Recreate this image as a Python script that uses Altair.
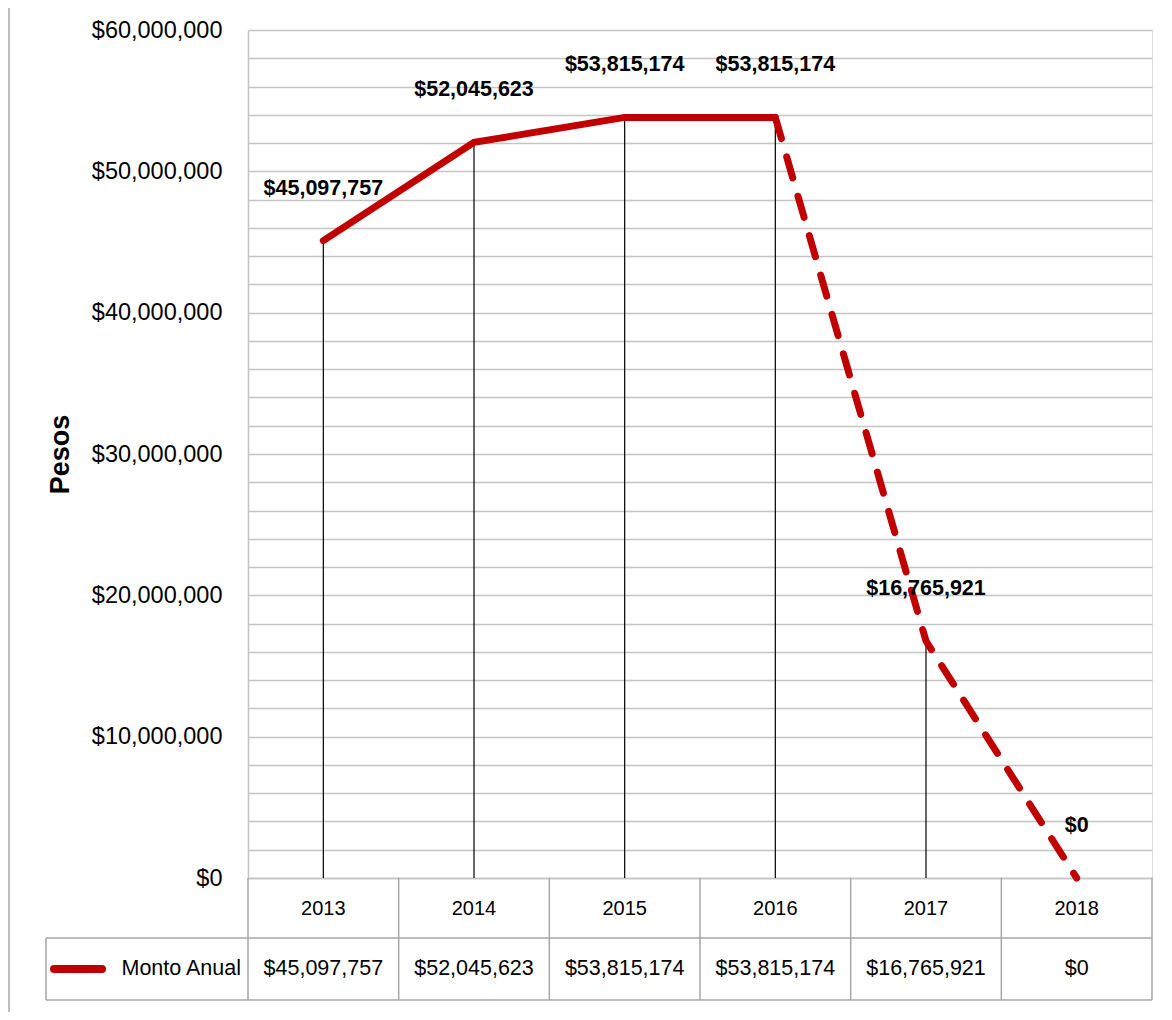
import altair as alt
import pandas as pd

# ---- data ----
years = ["2013", "2014", "2015", "2016", "2017", "2018"]
values = [45097757, 52045623, 53815174, 53815174, 16765921, 0]
series_name = "Monto Anual"
y_title = "Pesos"
y_tick_values = list(range(0, 60000001, 2000000))

df = pd.DataFrame({"year": years, "value": values})
df["label"] = df["value"].map(lambda v: f"${v:,.0f}")
solid_df = df[df["year"].astype(int) <= 2016]
dashed_df = df[df["year"].astype(int) >= 2016]

# ---- layout / style ----
W, H = 904, 848
PAD = {"left": 240, "top": 22, "right": 10, "bottom": 134}
ROW_SPLIT = H + 60
ROW2_MID = H + 91
ROW_BOTTOM = H + 122
LEG_LEFT = -202
RED = "#c00000"
GRID = "#c4c4c4"
BORDER = "#a6a6a6"
FONT = "Liberation Sans, Arial, sans-serif"

x_scale = alt.Scale(type="band", domain=years, paddingInner=0, paddingOuter=0)
y_scale = alt.Scale(domain=[0, 60000000], nice=False, zero=True)

x_axis = alt.Axis(
    title=None, labelFontSize=20, labelFont=FONT, labelColor="black",
    labelAngle=0, labelBaseline="middle", labelPadding=30,
    ticks=False, tickSize=0, domainColor=GRID, domainWidth=1.5, grid=False,
)
y_axis = alt.Axis(
    values=y_tick_values, format="$,.0f",
    labelExpr="datum.value % 10000000 === 0 ? datum.label : ''",
    labelFontSize=23.5, labelFont=FONT, labelColor="black",
    labelPadding=26, labelBaseline="middle",
    ticks=False, tickSize=0, domainColor=GRID, domainWidth=1.5,
    grid=True, gridColor=GRID, gridWidth=1.5,
    title=y_title, titleFont=FONT, titleFontSize=27, titleFontWeight="bold",
    titleColor="black", titleAngle=270, titleX=-188, titleY=H / 2,
    titleAlign="center", titleBaseline="middle",
)


def X(**kw):
    return alt.X("year:N", scale=x_scale, sort=years, axis=x_axis, **kw)


Y = alt.Y("value:Q", scale=y_scale, axis=y_axis)

base = alt.Chart(df)

drop = base.mark_rule(color="black", strokeWidth=1.2).encode(
    x=X(), y=Y, y2=alt.datum(0)
)
solid = alt.Chart(solid_df).mark_line(
    color=RED, strokeWidth=7, strokeCap="round", strokeJoin="miter"
).encode(x=X(), y=Y)
dashed = alt.Chart(dashed_df).mark_line(
    color=RED, strokeWidth=7, strokeCap="round", strokeDash=[22, 19]
).encode(x=X(), y=Y)
labels = base.mark_text(
    dy=-52, fontSize=21.5, fontWeight="bold", font=FONT, color="black",
    baseline="middle", align="center",
).encode(x=X(), y=Y, text="label:N")

# ---- data table below the axis ----
col_left = base.mark_rule(color=BORDER, strokeWidth=1.5).encode(
    x=X(bandPosition=0), y=alt.value(H), y2=alt.value(ROW_BOTTOM)
)
col_right = alt.Chart(df.tail(1)).mark_rule(color=BORDER, strokeWidth=1.5).encode(
    x=X(bandPosition=1), y=alt.value(H), y2=alt.value(ROW_BOTTOM)
)
one = pd.DataFrame({"k": [0]})
h_lines = alt.Chart(pd.DataFrame({"k": [ROW_SPLIT, ROW_BOTTOM]})).mark_rule(
    color=BORDER, strokeWidth=1.5
).encode(x=alt.value(LEG_LEFT), x2=alt.value(W), y=alt.value(0),
         yOffset=alt.YOffset("k:Q", scale=None))
leg_left = alt.Chart(one).mark_rule(color=BORDER, strokeWidth=1.5).encode(
    x=alt.value(LEG_LEFT), y=alt.value(ROW_SPLIT), y2=alt.value(ROW_BOTTOM)
)
leg_symbol = alt.Chart(one).mark_rule(color=RED, strokeWidth=8, strokeCap="round").encode(
    x=alt.value(LEG_LEFT + 8), x2=alt.value(LEG_LEFT + 56), y=alt.value(ROW2_MID)
)
leg_text = alt.Chart(one).mark_text(
    fontSize=21.5, font=FONT, color="black", align="right", baseline="middle"
).encode(x=alt.value(-7), y=alt.value(ROW2_MID), text=alt.value(series_name))
row_values = base.mark_text(
    fontSize=21.5, font=FONT, color="black", align="center", baseline="middle"
).encode(x=X(), y=alt.value(ROW2_MID), text="label:N")
outer_left = alt.Chart(one).mark_rule(color=BORDER, strokeWidth=1.5).encode(
    x=alt.value(-PAD["left"] + 1), y=alt.value(-PAD["top"]), y2=alt.value(H + PAD["bottom"])
)

chart = alt.layer(
    drop, solid, dashed, labels,
    col_left, col_right, h_lines, leg_left, leg_symbol, leg_text, row_values, outer_left,
).properties(
    width=W, height=H,
    autosize=alt.AutoSizeParams(type="none"),
    padding=PAD,
).configure_view(stroke=None).configure(background="white")

chart.save("out.html", embed_options={"renderer": "svg", "actions": False})
